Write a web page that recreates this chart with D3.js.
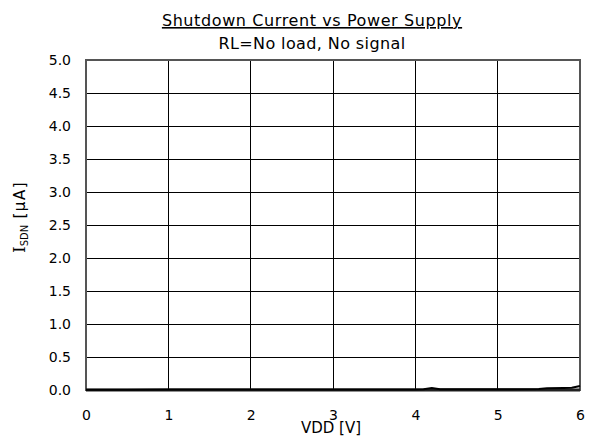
<!DOCTYPE html>
<html><head><meta charset="utf-8">
<script src="https://cdn.jsdelivr.net/npm/d3@7"></script>
<style>body{margin:0;background:#fff}svg text{font-family:"DejaVu Sans","Noto Sans",sans-serif;fill:#000}</style>
</head><body><svg id="c" width="590" height="439"></svg>
<script>
const vdd = [0,0.5,1,1.5,2,2.5,3,3.5,4,4.1,4.2,4.3,4.5,5,5.5,5.6,5.8,5.9,6];
const isdn = [0.005,0.005,0.006,0.006,0.007,0.007,0.007,0.008,0.008,0.01,0.03,0.01,0.01,0.012,0.015,0.025,0.03,0.035,0.06];
const xTicks = [0,1,2,3,4,5,6];
const yTicks = [0,0.5,1,1.5,2,2.5,3,3.5,4,4.5,5];

const svg = d3.select("#c");
const L=86,R=580,T=60,B=390;
const x = d3.scaleLinear().domain([0,6]).range([L,R]);
const y = d3.scaleLinear().domain([0,5]).range([B,T]);

// grid
svg.append("g").selectAll("line").data(xTicks.slice(1,-1)).join("line")
  .attr("x1",d=>x(d)).attr("x2",d=>x(d)).attr("y1",T).attr("y2",B)
  .attr("stroke","#000").attr("stroke-width",1).attr("shape-rendering","crispEdges");
svg.append("g").selectAll("line").data(yTicks.slice(1,-1)).join("line")
  .attr("x1",L).attr("x2",R).attr("y1",d=>y(d)).attr("y2",d=>y(d))
  .attr("stroke","#000").attr("stroke-width",1).attr("shape-rendering","crispEdges");
// frame
svg.append("rect").attr("x",L).attr("y",T).attr("width",R-L).attr("height",B-T)
  .attr("fill","none").attr("stroke","#555").attr("stroke-width",2);
svg.append("line").attr("x1",L).attr("x2",R).attr("y1",B).attr("y2",B).attr("stroke","#222").attr("stroke-width",3);

// axes labels via d3 axes
const xa = svg.append("g").attr("transform",`translate(0,${B})`)
  .call(d3.axisBottom(x).tickValues(xTicks).tickFormat(d3.format("d")).tickSize(0).tickPadding(20));
xa.select(".domain").remove();
xa.selectAll("text").attr("font-size",14);
const ya = svg.append("g").attr("transform",`translate(${L},0)`)
  .call(d3.axisLeft(y).tickValues(yTicks).tickFormat(d3.format(".1f")).tickSize(0).tickPadding(15));
ya.select(".domain").remove();
ya.selectAll("text").attr("font-size",14);

// data line
svg.append("path").datum(vdd.map((v,i)=>[v,isdn[i]]))
  .attr("d",d3.line().x(d=>x(d[0])).y(d=>y(d[1])))
  .attr("fill","none").attr("stroke","#000").attr("stroke-width",2);

// titles
svg.append("text").attr("x",312).attr("y",26).attr("text-anchor","middle").attr("font-size",16)
  .attr("letter-spacing",0.6).attr("text-decoration","underline").text("Shutdown Current vs Power Supply");
svg.append("text").attr("x",312).attr("y",49).attr("text-anchor","middle").attr("font-size",16)
  .attr("letter-spacing",0.4).text("RL=No load, No signal");
svg.append("text").attr("x",331).attr("y",433).attr("text-anchor","middle").attr("font-size",15).text("VDD [V]");
const yl = svg.append("text").attr("transform","translate(25,217) rotate(-90)").attr("text-anchor","middle").attr("font-size",15);
yl.append("tspan").attr("font-family","DejaVu Serif").attr("font-size",17).text("I");
yl.append("tspan").attr("font-size",10).attr("dy",3).text("SDN");
yl.append("tspan").attr("dy",-3).attr("letter-spacing",1.5).text(" [μA]");
</script></body></html>
